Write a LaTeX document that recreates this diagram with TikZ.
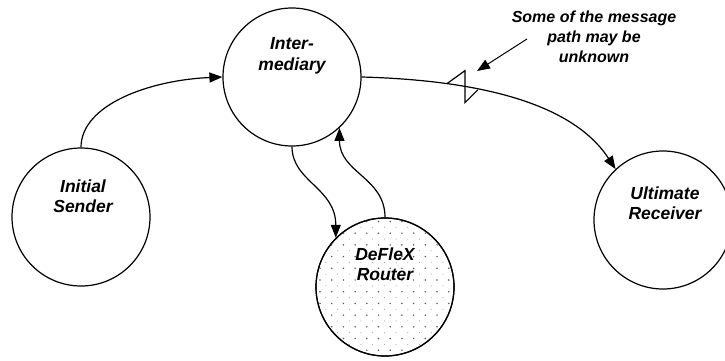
\documentclass[tikz,border=0pt]{standalone}
\usepackage{fontspec}
\setmainfont{Liberation Sans}
\usetikzlibrary{arrows.meta,calc}
\begin{document}
\begin{tikzpicture}[x=1pt,y=-1pt,
  bubble/.style={circle,draw,line width=1.2pt,minimum size=138pt,inner sep=0pt},
  lbl/.style={align=center,font=\fontsize{17.5}{20.5}\selectfont\bfseries\itshape,inner sep=0pt},
  note/.style={align=center,font=\fontsize{16}{20}\selectfont\bfseries\itshape,inner sep=0pt},
  conn/.style={line width=1.2pt,-{Triangle[length=13pt,width=10pt]}},
  plain/.style={line width=1.2pt}]
\useasboundingbox (0,0) rectangle (725,361);
% circles
\node[bubble] (inter) at (292,77) {};
\node[bubble] (init) at (81,217) {};
\node[bubble] (defl) at (385,287) {};
\node[bubble] (ult) at (663,220) {};
% dotted fill of router
\begin{scope}
  \clip (385,287) circle (69pt);
  \foreach \i in {0,...,13} {
    \foreach \j in {0,...,13} {
      \fill[black!65] (308.3+11.7*\i,221.5+11.7*\j) circle (0.85pt);
      \fill[black!45] (314.15+11.7*\i,227.35+11.7*\j) circle (0.5pt);
    }
  }
\end{scope}
\node[bubble] at (385,287) {};
% labels
\node[lbl] (interT) at (292,56) {Inter-\\mediary};
\node[lbl] (initT) at (83,196) {Initial\\Sender};
\node[lbl] (deflT) at (385,264) {DeFleX\\Router};
\node[lbl] (ultT) at (665,203) {Ultimate\\Receiver};
\node[note] (noteT) at (594,37) {Some of the message\\path may be\\unknown};
% connectors
\draw[conn] (init.north) .. controls +(0,-43) and +(-72,3) .. (inter.west);
\draw[conn] (inter.east) .. controls +(109,3) and +(-45,-69) .. (ult.133)
  coordinate[pos=0.33] (brk);
\draw[conn] (inter.south) .. controls +(0,35) and +(0,-50) .. (defl.135);
\draw[conn] (defl.north) .. controls +(0,-40) and +(0,45) .. (inter.-47);
% break marker
\draw[plain,line join=miter] ($(brk)+(-18,-3)$) -- ($(brk)+(0,-16)$) -- ($(brk)+(0,16)$) -- ($(brk)+(13,3)$);
% annotation arrow
\coordinate (noteS) at (527,39);
\coordinate (noteE) at (477,71);
\draw[line width=1pt,-{Triangle[length=13pt,width=10pt]}] (noteS) -- (noteE);
\end{tikzpicture}
\end{document}
